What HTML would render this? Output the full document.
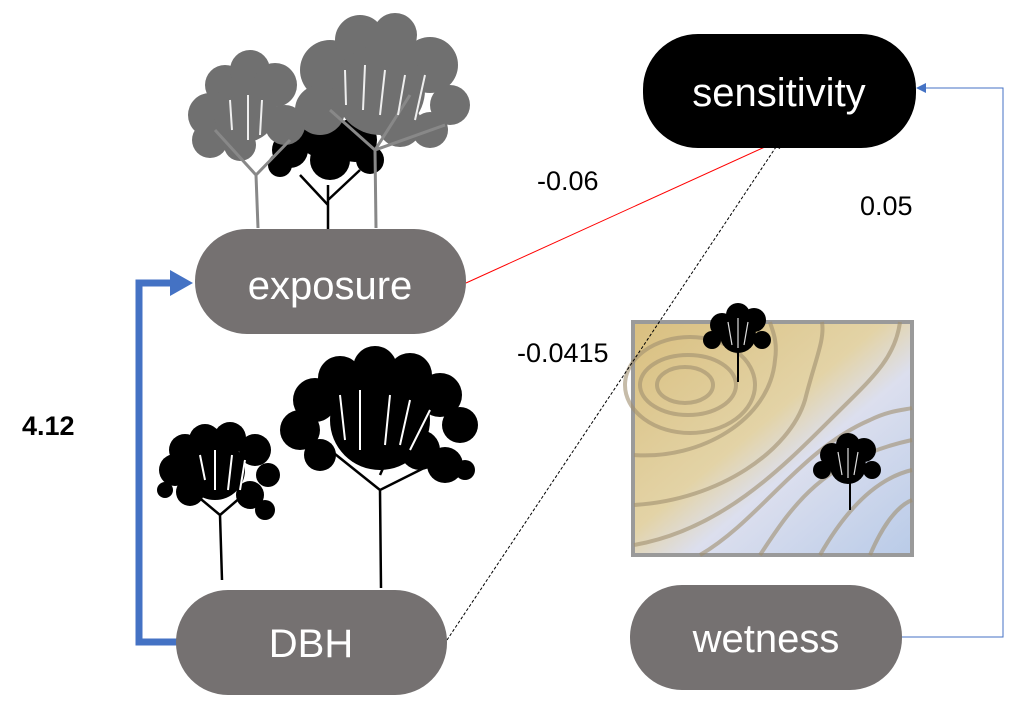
<!DOCTYPE html>
<html><head><style>
body{margin:0;background:#fff;}
svg{display:block;}
text{font-family:"Liberation Sans",sans-serif;}
</style></head><body>
<svg width="1016" height="703" viewBox="0 0 1016 703" xmlns="http://www.w3.org/2000/svg">
<defs>
<linearGradient id="g" x1="0" y1="0" x2="1" y2="1">
<stop offset="0" stop-color="#d9bf7f"/><stop offset="0.45" stop-color="#e3d3a6"/><stop offset="0.6" stop-color="#dcdfee"/><stop offset="1" stop-color="#b9cbe8"/>
</linearGradient>
</defs>

<!-- top trees -->
<g fill="#000">
<circle cx="290" cy="150" r="18"/><circle cx="320" cy="135" r="22"/><circle cx="355" cy="140" r="22"/><circle cx="330" cy="160" r="20"/><circle cx="370" cy="160" r="14"/><circle cx="280" cy="165" r="12"/>
</g>
<g stroke="#000" stroke-width="2.5" fill="none"><path d="M328 230 L328 185 M328 205 L300 175 M328 200 L360 170"/></g>
<g fill="#707070">
<circle cx="210" cy="115" r="22"/><circle cx="225" cy="85" r="20"/><circle cx="250" cy="70" r="20"/><circle cx="275" cy="85" r="22"/><circle cx="245" cy="110" r="32"/><circle cx="210" cy="140" r="18"/><circle cx="240" cy="145" r="16"/><circle cx="285" cy="125" r="20"/>
<circle cx="330" cy="70" r="30"/><circle cx="360" cy="40" r="25"/><circle cx="395" cy="35" r="22"/><circle cx="430" cy="65" r="28"/><circle cx="450" cy="105" r="20"/><circle cx="380" cy="90" r="45"/><circle cx="320" cy="110" r="25"/><circle cx="430" cy="130" r="18"/><circle cx="400" cy="125" r="22"/>
</g>
<g stroke="#888" stroke-width="3" fill="none">
<path d="M258 228 L256 175 L215 130 M256 175 L290 140"/>
<path d="M376 228 L375 150 L330 110 M375 150 L445 125 M375 150 L410 95"/>
</g>
<g stroke="#eee" stroke-width="2" fill="none">
<path d="M230 100 L232 130 M248 95 L248 140 M262 100 L260 135 M345 70 L346 105 M365 65 L363 110 M385 70 L380 115 M405 75 L398 115 M425 75 L415 120"/>
</g>

<!-- DBH trees -->
<g fill="#000">
<circle cx="175" cy="470" r="16"/><circle cx="185" cy="450" r="16"/><circle cx="205" cy="440" r="16"/><circle cx="230" cy="438" r="16"/><circle cx="255" cy="450" r="16"/><circle cx="268" cy="475" r="12"/><circle cx="215" cy="470" r="30"/><circle cx="190" cy="492" r="14"/><circle cx="250" cy="495" r="14"/><circle cx="265" cy="510" r="10"/><circle cx="165" cy="490" r="8"/>
<circle cx="300" cy="430" r="20"/><circle cx="315" cy="400" r="22"/><circle cx="340" cy="378" r="22"/><circle cx="375" cy="368" r="22"/><circle cx="410" cy="375" r="22"/><circle cx="440" cy="395" r="22"/><circle cx="460" cy="425" r="18"/><circle cx="380" cy="420" r="50"/><circle cx="320" cy="455" r="16"/><circle cx="445" cy="465" r="18"/><circle cx="465" cy="470" r="10"/><circle cx="420" cy="450" r="20"/>
</g>
<g stroke="#000" stroke-width="2.5" fill="none">
<path d="M222 580 L220 515 L190 490 M220 515 L255 485"/>
<path d="M381 588 L380 490 L330 450 M380 490 L440 460 M380 475 L400 430"/>
</g>
<g stroke="#fff" stroke-width="2" fill="none">
<path d="M200 455 L205 480 M215 450 L215 490 M232 455 L228 490 M245 460 L240 490 M340 395 L345 440 M360 390 L360 450 M390 395 L385 445 M410 400 L400 445 M430 410 L410 450"/>
</g>

<!-- map -->
<rect x="633" y="322" width="279" height="233" fill="url(#g)" stroke="#9a9a9a" stroke-width="4"/>
<g stroke="#a09070" stroke-opacity="0.6" stroke-width="4" fill="none">
<ellipse cx="685" cy="385" rx="28" ry="18"/>
<ellipse cx="688" cy="385" rx="48" ry="30"/>
<ellipse cx="690" cy="385" rx="65" ry="48"/>
<path d="M634 455 C700 460 770 420 775 360 C778 340 772 330 770 322"/>
<path d="M634 505 C720 500 790 450 805 400 C815 360 825 340 822 322"/>
<path d="M634 545 C720 530 780 470 830 420 C870 380 895 360 900 322"/>
<path d="M700 555 C760 520 800 450 870 420 C890 410 905 410 912 408"/>
<path d="M760 555 C790 510 820 460 912 440"/>
<path d="M820 555 C840 520 870 480 912 470"/>
<path d="M870 555 C885 520 900 505 912 500"/>
</g>
<g fill="#000">
<circle cx="722" cy="325" r="12"/><circle cx="738" cy="315" r="12"/><circle cx="754" cy="320" r="12"/><circle cx="712" cy="340" r="9"/><circle cx="762" cy="340" r="9"/><circle cx="738" cy="335" r="18"/>
<circle cx="832" cy="455" r="12"/><circle cx="848" cy="445" r="12"/><circle cx="864" cy="450" r="12"/><circle cx="822" cy="470" r="9"/><circle cx="872" cy="470" r="9"/><circle cx="848" cy="466" r="18"/>
</g>
<g stroke="#000" stroke-width="2" fill="none"><path d="M738 382 L738 345 M850 510 L850 475"/></g>
<g stroke="#ddd" stroke-width="1.2" fill="none"><path d="M728 322 L732 345 M738 318 L738 348 M748 322 L744 345 M838 452 L842 475 M848 448 L848 478 M858 452 L854 475"/></g>

<!-- connectors -->
<path d="M180 642 H139 V283 H172" stroke="#4472c4" stroke-width="7" fill="none"/>
<polygon points="170,270 193,283 170,296" fill="#4472c4"/>
<line x1="466" y1="283" x2="778" y2="141" stroke="#f00" stroke-width="1"/>
<polygon points="781,139 771,141 775,148" fill="#f00"/>
<line x1="447" y1="640" x2="778" y2="144" stroke="#000" stroke-width="1" stroke-dasharray="3,2"/>
<polygon points="781,139 774,146 780,149" fill="#000"/>
<path d="M902 637 H1003 V88 H918" stroke="#4472c4" stroke-width="1" fill="none"/>
<polygon points="916,88 926,83 926,93" fill="#4472c4"/>

<!-- nodes -->
<rect x="643" y="34" width="273" height="114" rx="55" fill="#000"/>
<text x="779" y="106" font-size="40" fill="#fff" text-anchor="middle">sensitivity</text>
<rect x="195" y="229" width="271" height="105" rx="52" fill="#757171"/>
<text x="330" y="299" font-size="40" fill="#fff" text-anchor="middle">exposure</text>
<rect x="176" y="590" width="271" height="105" rx="52" fill="#757171"/>
<text x="311" y="657" font-size="40" fill="#fff" text-anchor="middle">DBH</text>
<rect x="630" y="585" width="272" height="105" rx="52" fill="#757171"/>
<text x="766" y="652" font-size="40" fill="#fff" text-anchor="middle">wetness</text>

<!-- labels -->
<text x="537" y="190" font-size="27">-0.06</text>
<text x="860" y="215" font-size="27">0.05</text>
<text x="517" y="362" font-size="27">-0.0415</text>
<text x="22" y="435" font-size="27" font-weight="bold">4.12</text>
</svg>
</body></html>
